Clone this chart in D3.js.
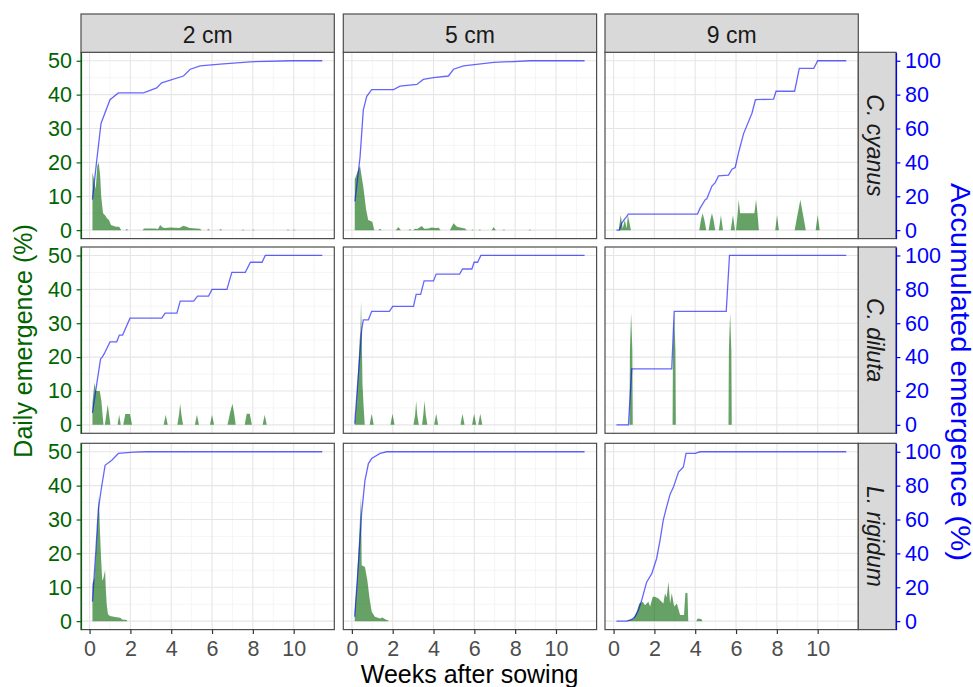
<!DOCTYPE html>
<html>
<head>
<meta charset="utf-8">
<script src="https://cdn.jsdelivr.net/npm/d3@7"></script>
<style>
  body { margin: 0; background: #fff; }
  svg { display: block; font-family: "Liberation Sans", Arial, sans-serif; }
</style>
</head>
<body>
<svg id="chart" width="973" height="687"></svg>
<script>
var depths = ["2 cm", "5 cm", "9 cm"];
var species = ["C. cyanus", "C. diluta", "L. rigidum"];
var weekTicks = [0, 2, 4, 6, 8, 10];
var weekMinor = [1, 3, 5, 7, 9, 11];
var dailyTicks = [0, 10, 20, 30, 40, 50];
var dailyMinor = [5, 15, 25, 35, 45];
var accumTicks = [0, 20, 40, 60, 80, 100];

// daily emergence (%) as [weeks after sowing, value]
var daily2cmCyanus = [[0.14,0],[0.14,17],[0.22,15],[0.3,12],[0.38,19],[0.45,20],[0.52,16],[0.57,10],[0.66,5],[0.75,4.5],[0.85,3.5],[0.95,3],[1.05,1.5],[1.3,1],[1.45,1],[1.55,0],
    [1.75,0],[1.82,0.3],[1.9,0],[2.6,0],[2.67,0.5],[3.2,0.5],[3.35,0.3],[3.46,1.5],[3.58,0.8],[3.7,0.6],[3.95,0.8],[4.2,0.7],[4.4,0.6],[4.6,1.3],[4.75,1.0],[4.9,0.6],[5.4,0.4],[5.5,0],
    [5.75,0],[5.82,0.3],[5.9,0],[6.35,0],[6.42,0.3],[6.5,0],[7.45,0],[7.52,0.2],[7.6,0],[7.95,0],[8.02,0.2],[8.1,0],[9.65,0],[9.72,0.2],[9.8,0],[9.95,0],[10.02,0.2],[10.1,0]];
var daily5cmCyanus = [[0.14,0],[0.14,15],[0.3,17.5],[0.4,19],[0.5,15],[0.56,12.8],[0.7,6],[0.8,3],[1.0,2.5],[1.1,0],
    [1.3,0],[1.38,0.4],[1.46,0],[2.15,0],[2.28,0.9],[2.4,0],[2.78,0],[2.85,0.3],[2.92,0],[3.0,0],[3.1,0.4],[3.2,0.3],[3.42,1.2],[3.55,0.4],[3.75,0.5],[3.9,0.8],[4.1,0.6],[4.25,0.7],[4.35,0],
    [4.8,0],[4.98,2.0],[5.15,1.0],[5.3,0.8],[5.55,0.5],[5.62,0],[5.85,0],[5.92,0.2],[6.0,0],[6.2,0],[6.27,0.2],[6.34,0],[6.85,0],[6.95,0.9],[7.05,0],[7.38,0],[7.45,0.2],[7.52,0],[8.65,0],[8.72,0.2],[8.8,0]];
var daily9cmCyanus = [[0.25,0],[0.35,4.5],[0.45,0.5],[0.55,3],[0.64,0.5],[0.7,4.5],[0.8,1.5],[0.85,0],
    [4.2,0],[4.28,3],[4.36,5],[4.45,3],[4.54,0],[4.66,0],[4.74,3],[4.82,5],[4.9,3],[4.98,0],[5.16,0],[5.26,4.5],[5.36,0],[5.74,0],[5.85,4.5],[5.95,0],
    [6.0,0],[6.08,5],[6.13,9],[6.2,5],[6.9,5],[6.98,9],[7.05,5],[7.12,0],[7.92,0],[8.01,4.5],[8.1,0],
    [8.87,0],[9.15,9],[9.42,0],[9.9,0],[10.0,4.5],[10.1,0]];
var daily2cmDiluta = [[0.14,0],[0.14,6.5],[0.24,12.5],[0.3,10],[0.5,10],[0.58,7],[0.65,2],[0.68,0],[0.75,0],[0.89,6],[1.02,0],[1.37,0],[1.45,3],[1.53,0],
    [1.65,0],[1.75,3.2],[1.98,3.2],[2.08,0],[3.63,0],[3.73,3],[3.83,0],[4.3,0],[4.38,3],[4.44,6.2],[4.5,3],[4.58,0],[5.16,0],[5.26,3],[5.36,0],
    [5.9,0],[6.0,3],[6.1,0],[6.76,0],[6.88,3.5],[7.0,6.2],[7.08,3.5],[7.16,0],[7.6,0],[7.7,3.3],[7.85,3.3],[7.95,0],[8.48,0],[8.58,3],[8.68,0]];
var daily5cmDiluta = [[0.14,0],[0.2,5],[0.3,15],[0.38,25],[0.42,28],[0.45,36.5],[0.48,28],[0.52,12],[0.58,5],[0.63,0],[0.87,0],[0.97,3.3],[1.07,0],[1.89,0],[1.99,3.3],[2.09,0],
    [3.02,0],[3.1,3],[3.15,7],[3.2,3],[3.28,0],[3.44,0],[3.5,3],[3.56,7],[3.62,3],[3.7,0],[4.03,0],[4.13,3.3],[4.23,0],
    [5.32,0],[5.42,3.3],[5.52,0],[5.89,0],[5.99,3.3],[6.09,0],[6.19,0],[6.29,3.3],[6.39,0]];
var daily9cmDiluta = [[0.78,0],[0.79,11],[0.8,22],[0.86,33],[0.92,22],[0.93,11],[0.94,0],[2.89,0],[2.9,11],[2.91,22],[2.97,33],[3.03,22],[3.04,11],[3.05,0],
    [5.63,0],[5.64,11],[5.65,22],[5.71,33],[5.77,22],[5.78,11],[5.79,0]];
var daily2cmRigidum = [[0.14,0],[0.14,11],[0.25,13],[0.36,26],[0.46,37],[0.5,28],[0.56,19],[0.62,12],[0.67,12.5],[0.76,15],[0.8,9],[0.84,5],[0.9,2],[1.0,1.5],[1.25,1.2],[1.5,1.0],[1.6,0.5],[1.82,0.3],[1.85,0]];
var daily5cmRigidum = [[0.14,0],[0.14,3],[0.25,12],[0.35,24],[0.45,37],[0.48,16.5],[0.64,16],[0.76,12],[0.86,7],[0.97,2.8],[1.13,1.3],[1.38,0.8],[1.5,1.1],[1.65,0.5],[1.79,0.2],[1.8,0]];
var daily9cmRigidum = [[0.6,0],[0.8,0.3],[0.97,0.8],[1.13,2.8],[1.26,5.2],[1.43,5.7],[1.54,4.7],[1.7,5.7],[1.79,4.3],[1.92,7.2],[2.03,7.2],[2.2,6.7],[2.28,6.2],[2.44,5.2],[2.52,8.2],[2.6,7],[2.69,11.6],[2.77,5.2],[2.85,8.2],[2.97,4.3],[3.1,5.2],[3.26,1.8],[3.45,1.8],[3.52,8.4],[3.62,8.2],[3.66,0],
    [4.05,0],[4.12,0.8],[4.3,0.6],[4.35,0]];

// accumulated emergence (%) as [weeks after sowing, value]
var accum2cmCyanus = [[0.14,18],[0.35,41],[0.56,63],[1.0,77],[1.41,81],[2.64,81],[3.29,84],[3.53,87],[4.6,91],[4.93,95],[5.42,97],[6.4,98],[7.87,99.4],[10.0,100],[11.4,100]];
var accum5cmCyanus = [[0.15,17],[0.4,43],[0.56,71],[0.73,79],[0.97,83],[2.04,83],[2.36,85],[3.18,86],[3.5,89],[4.0,90],[4.73,91],[4.98,95],[5.47,97],[6.95,99],[8.75,100],[11.4,100]];
var accum9cmCyanus = [[0.14,0],[0.28,0],[0.4,4],[0.51,6],[0.64,8],[0.72,9.5],[4.11,9.5],[4.24,13],[4.49,18],[4.57,18.5],[4.82,26],[4.98,28],[5.14,32],[5.63,32.5],[5.8,36],[5.96,37],[6.13,46],[6.37,57],[6.78,69],[6.95,77],[7.84,77.4],[7.96,82],[8.87,82],[9.1,95.5],[9.81,95.5],[10.0,100],[11.4,100]];
var accum2cmDiluta = [[0.14,7],[0.35,24],[0.54,39],[0.62,40],[0.72,42],[1.0,49],[1.33,49],[1.46,53],[1.62,53],[1.98,63],[3.54,63],[3.7,66],[4.28,66],[4.44,73],[5.1,73],[5.29,76],[5.83,76],[6.0,80],[6.73,80],[6.97,90],[7.63,90],[7.88,96],[8.45,96],[8.61,100],[11.4,100]];
var accum5cmDiluta = [[0.14,0.7],[0.48,56],[0.56,62],[0.81,62],[0.97,67],[1.84,67],[2.0,70],[3.02,70],[3.15,77],[3.37,77],[3.54,85],[4.0,85],[4.13,89],[5.28,89],[5.42,92],[5.88,92],[5.99,96],[6.16,96],[6.32,100],[11.4,100]];
var accum9cmDiluta = [[0.14,0],[0.73,0],[0.89,33],[2.85,33],[2.97,67],[5.52,67],[5.68,100],[11.4,100]];
var accum2cmRigidum = [[0.14,11.5],[0.31,42],[0.43,66],[0.56,77],[0.76,92],[1.09,95],[1.41,99],[2.15,99.8],[2.8,100],[11.4,100]];
var accum5cmRigidum = [[0.14,2.6],[0.32,34],[0.48,64],[0.64,83],[0.81,93],[0.97,96],[1.38,99],[1.71,100],[11.4,100]];
var accum9cmRigidum = [[0.14,0],[0.64,0],[0.89,1],[1.05,2.6],[1.22,6.6],[1.38,12.5],[1.62,23],[1.87,28],[2.11,37],[2.28,48],[2.44,60],[2.6,67.5],[2.77,75],[2.93,79],[3.18,88],[3.34,90],[3.42,91],[3.55,99],[4.0,99],[4.24,100],[11.4,100]];

var dailyRows = [
    [daily2cmCyanus, daily5cmCyanus, daily9cmCyanus],
    [daily2cmDiluta, daily5cmDiluta, daily9cmDiluta],
    [daily2cmRigidum, daily5cmRigidum, daily9cmRigidum]
];
var accumRows = [
    [accum2cmCyanus, accum5cmCyanus, accum9cmCyanus],
    [accum2cmDiluta, accum5cmDiluta, accum9cmDiluta],
    [accum2cmRigidum, accum5cmRigidum, accum9cmRigidum]
];

(function () {
    'use strict';

    var green = "#006400", blue = "#0000ff", border = "#4d4d4d";
    var colX = [81, 343.3, 605],
        rowY = [52.3, 247, 443.3],
        panelW = 253.3,
        panelH = 186.3,
        stripTop = 14,
        stripW = 37.7;

    var x = d3.scaleLinear().domain([-0.42, 11.99]).range([0, panelW]);
    var yDaily = d3.scaleLinear().domain([-2.5, 52.5]).range([panelH, 0]);
    var yAccum = d3.scaleLinear().domain([-5, 105]).range([panelH, 0]);

    var area = d3.area()
        .x(function (d) { return x(d[0]); })
        .y0(yDaily(0))
        .y1(function (d) { return yDaily(d[1]); });

    var line = d3.line()
        .x(function (d) { return x(d[0]); })
        .y(function (d) { return yAccum(d[1]); });

    var svg = d3.select("#chart");

    species.forEach(function (sp, r) {
        depths.forEach(function (dp, c) {
            var g = svg.append("g").attr("transform", "translate(" + colX[c] + "," + rowY[r] + ")");

            g.append("rect").attr("width", panelW).attr("height", panelH).attr("fill", "#fff");

            // grid
            g.selectAll(".minor-x").data(weekMinor).enter().append("line")
                .attr("x1", x).attr("x2", x).attr("y1", 0).attr("y2", panelH)
                .attr("stroke", "#f0f0f0").attr("stroke-width", 0.7);
            g.selectAll(".minor-y").data(dailyMinor).enter().append("line")
                .attr("y1", yDaily).attr("y2", yDaily).attr("x1", 0).attr("x2", panelW)
                .attr("stroke", "#f0f0f0").attr("stroke-width", 0.7);
            g.selectAll(".major-x").data(weekTicks).enter().append("line")
                .attr("x1", x).attr("x2", x).attr("y1", 0).attr("y2", panelH)
                .attr("stroke", "#e6e6e6").attr("stroke-width", 1.1);
            g.selectAll(".major-y").data(dailyTicks).enter().append("line")
                .attr("y1", yDaily).attr("y2", yDaily).attr("x1", 0).attr("x2", panelW)
                .attr("stroke", "#e6e6e6").attr("stroke-width", 1.1);

            g.append("path")
                .datum(dailyRows[r][c])
                .attr("d", area)
                .attr("fill", green)
                .attr("fill-opacity", 0.6);

            g.append("path")
                .datum(accumRows[r][c])
                .attr("d", line)
                .attr("fill", "none")
                .attr("stroke", blue)
                .attr("stroke-opacity", 0.6)
                .attr("stroke-width", 1.3);

            g.append("rect").attr("width", panelW).attr("height", panelH)
                .attr("fill", "none").attr("stroke", border).attr("stroke-width", 1.2);

            // top strips
            if (r === 0) {
                svg.append("rect")
                    .attr("x", colX[c]).attr("y", stripTop)
                    .attr("width", panelW).attr("height", rowY[0] - stripTop)
                    .attr("fill", "#d9d9d9").attr("stroke", border).attr("stroke-width", 1.2);
                svg.append("text")
                    .attr("x", colX[c] + panelW / 2).attr("y", 43)
                    .attr("text-anchor", "middle")
                    .attr("font-size", "23px").attr("fill", "#1a1a1a")
                    .text(dp);
            }

            if (c === 0) {
                var la = g.append("g").call(d3.axisLeft(yDaily).tickValues(dailyTicks).tickSize(4.4).tickSizeOuter(0).tickPadding(4.6));
                la.select(".domain").attr("stroke", green).attr("stroke-width", 1.2);
                la.selectAll(".tick line").attr("stroke", green).attr("stroke-width", 1.2);
                la.selectAll(".tick text").attr("fill", green).attr("font-size", "21.5px").attr("font-family", "Liberation Sans, Arial, sans-serif");
            }

            if (c === 2) {
                var sx = colX[c] + panelW;
                svg.append("rect")
                    .attr("x", sx).attr("y", rowY[r])
                    .attr("width", stripW).attr("height", panelH)
                    .attr("fill", "#d9d9d9").attr("stroke", border).attr("stroke-width", 1.2);
                svg.append("text")
                    .attr("transform", "translate(" + (sx + 8.5) + "," + (rowY[r] + panelH / 2) + ") rotate(90)")
                    .attr("text-anchor", "middle")
                    .attr("font-size", "23px").attr("font-style", "italic").attr("fill", "#1a1a1a")
                    .text(sp);

                var ra = svg.append("g")
                    .attr("transform", "translate(" + (sx + stripW) + "," + rowY[r] + ")")
                    .call(d3.axisRight(yAccum).tickValues(accumTicks).tickSize(4.4).tickSizeOuter(0).tickPadding(4.6));
                ra.select(".domain").attr("stroke", blue).attr("stroke-width", 1.2);
                ra.selectAll(".tick line").attr("stroke", blue).attr("stroke-width", 1.2);
                ra.selectAll(".tick text").attr("fill", blue).attr("font-size", "21.5px").attr("font-family", "Liberation Sans, Arial, sans-serif");
            }

            if (r === 2) {
                var ba = g.append("g")
                    .attr("transform", "translate(0," + panelH + ")")
                    .call(d3.axisBottom(x).tickValues(weekTicks).tickSize(4.4).tickSizeOuter(0).tickPadding(6.3));
                ba.select(".domain").remove();
                ba.selectAll(".tick line").attr("stroke", "#333").attr("stroke-width", 1.2);
                ba.selectAll(".tick text").attr("fill", "#4d4d4d").attr("font-size", "21.5px").attr("font-family", "Liberation Sans, Arial, sans-serif");
            }
        });
    });

    // axis titles
    svg.append("text")
        .attr("x", (colX[0] + colX[2] + panelW) / 2).attr("y", 683)
        .attr("text-anchor", "middle")
        .attr("font-size", "25px").attr("fill", "#000")
        .text("Weeks after sowing");

    svg.append("text")
        .attr("transform", "translate(32," + (rowY[0] + (rowY[2] + panelH - rowY[0]) / 2) + ") rotate(-90)")
        .attr("text-anchor", "middle")
        .attr("font-size", "25px").attr("fill", green)
        .text("Daily emergence (%)");

    svg.append("text")
        .attr("transform", "translate(950.5,372) rotate(90)")
        .attr("text-anchor", "middle")
        .attr("font-size", "27px").attr("fill", blue)
        .attr("textLength", 378).attr("lengthAdjust", "spacingAndGlyphs")
        .text("Accumulated emergence (%)");
}());
</script>
</body>
</html>
